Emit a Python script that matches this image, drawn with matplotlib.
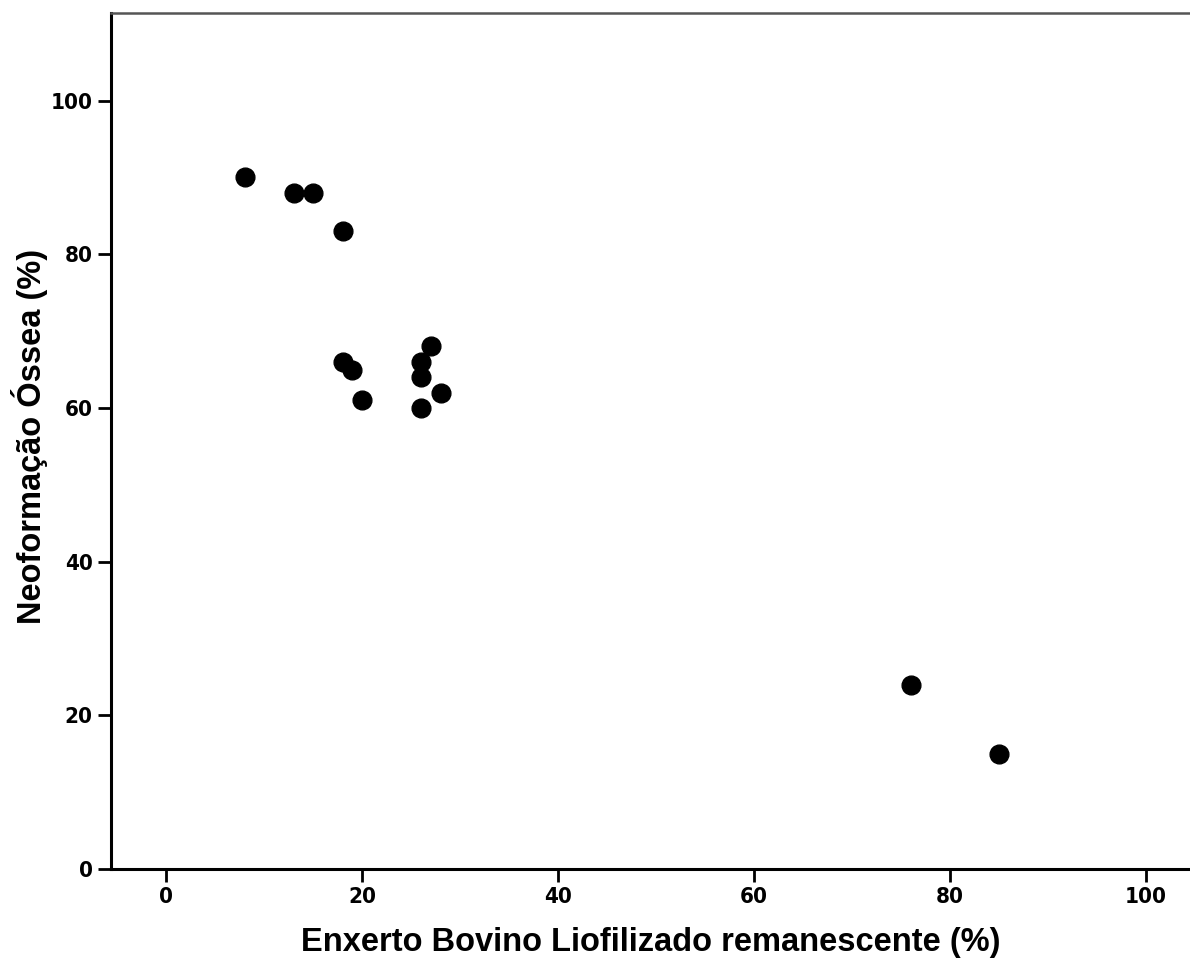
import matplotlib
matplotlib.use("Agg")
import matplotlib.pyplot as plt

# Remaining bovine graft (%) vs. new bone formation (%)
enxerto = [8, 13, 15, 18, 18, 19, 20, 26, 26, 26, 27, 28, 76, 85]
neoformacao = [90, 88, 88, 83, 66, 65, 61, 66, 64, 60, 68, 62, 24, 15]
xticks = [0, 20, 40, 60, 80, 100]
yticks = [0, 20, 40, 60, 80, 100]

label_family = ["Liberation Sans", "DejaVu Sans"]

fig = plt.figure(figsize=(11.9, 9.63), dpi=100)
ax = fig.add_axes([111 / 1190, 94 / 963, 1 - 111 / 1190, (869 - 13) / 963])

ax.plot(enxerto, neoformacao, linestyle="none", marker="o", markersize=13.5,
        color="black", markeredgecolor="black")

ax.set_xlim(-5.65, 104.5)
ax.set_ylim(0, 111.4)
ax.set_xticks(xticks)
ax.set_yticks(yticks)

ax.spines["right"].set_visible(False)
ax.spines["top"].set_color("#555555")
ax.spines["top"].set_linewidth(1.8)
for side in ("left", "bottom"):
    ax.spines[side].set_color("black")
    ax.spines[side].set_linewidth(2.2)

ax.tick_params(axis="both", direction="out", length=9.3, width=2, color="black", pad=4)
for lab in ax.get_xticklabels() + ax.get_yticklabels():
    lab.set_fontfamily(["DejaVu Sans"])
    lab.set_fontstretch("condensed")
    lab.set_fontweight("bold")
    lab.set_fontsize(16)

ax.set_xlabel("Enxerto Bovino Liofilizado remanescente (%)", fontsize=23.5,
              fontweight="bold", family=label_family, labelpad=14)
ax.set_ylabel("Neoformação Óssea (%)", fontsize=23.5, fontweight="bold",
              family=label_family)
ax.yaxis.set_label_coords(-0.058, 0.505)

fig.savefig("out.png", dpi=100)
